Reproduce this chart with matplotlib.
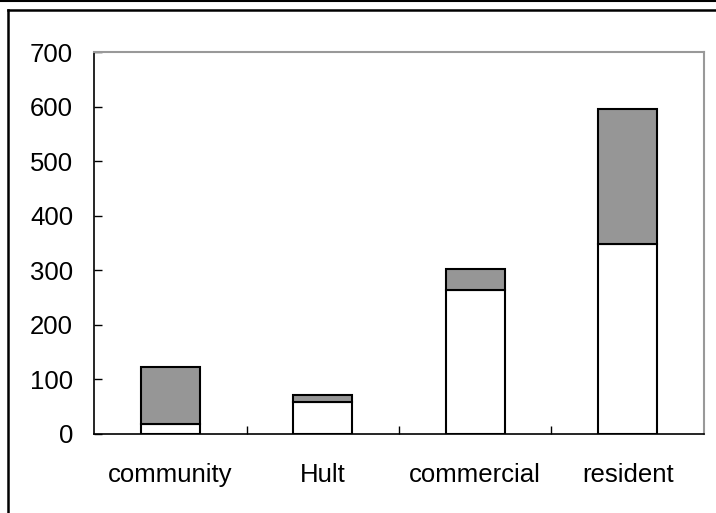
import matplotlib.pyplot as plt
from matplotlib.lines import Line2D

plt.rcParams['font.family'] = ['Liberation Sans', 'DejaVu Sans']

categories = ['community', 'Hult', 'commercial', 'resident']
lower = [18, 59, 264, 348]     # white part
upper = [105, 13, 39, 247]     # grey part on top

fig = plt.figure(figsize=(7.16, 5.13), dpi=100)
ax = fig.add_axes([0.1313, 0.154, 0.8519, 0.7446])

x = range(len(categories))
ax.bar(x, lower, width=0.39, color='white', edgecolor='black', linewidth=1.5)
ax.bar(x, upper, width=0.39, bottom=lower, color='#969696', edgecolor='black', linewidth=1.5)

ax.set_xlim(-0.5, 3.5)
ax.set_ylim(0, 700)
ax.set_yticks(range(0, 701, 100))
ax.set_xticks(list(x))
ax.set_xticklabels(categories)
ax.set_xticks([0.5, 1.5, 2.5], minor=True)

ax.tick_params(axis='y', direction='in', length=6, width=1, pad=15, labelsize=18.5)
ax.tick_params(axis='x', which='major', length=0, pad=21, labelsize=18.5)
ax.tick_params(axis='x', which='minor', direction='in', length=6, width=1)

for s in ['left', 'bottom']:
    ax.spines[s].set_color('black')
    ax.spines[s].set_linewidth(1.2)
for s in ['top', 'right']:
    ax.spines[s].set_color('#999999')
    ax.spines[s].set_linewidth(1.5)

# outer frame lines
fig.add_artist(Line2D([0, 1], [0.999, 0.999], transform=fig.transFigure, color='black', linewidth=1.5))
fig.add_artist(Line2D([8 / 716, 1], [1 - 10 / 513, 1 - 10 / 513], transform=fig.transFigure, color='black', linewidth=1.8))
fig.add_artist(Line2D([8 / 716, 8 / 716], [0, 1 - 10 / 513], transform=fig.transFigure, color='black', linewidth=1.8))

fig.savefig('out.png', dpi=100)
